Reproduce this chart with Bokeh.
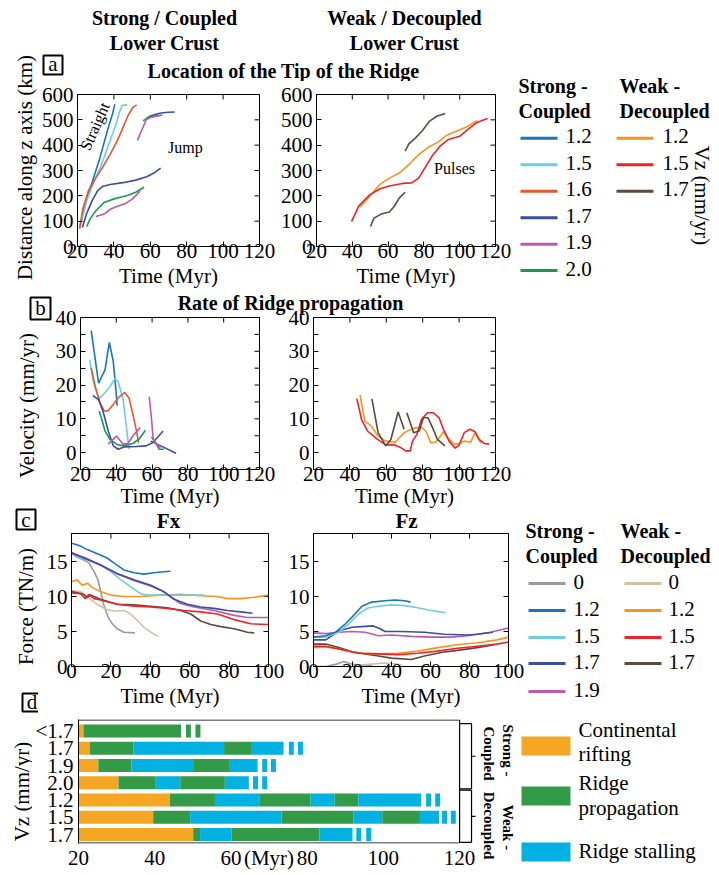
import math
from bokeh.plotting import figure
from bokeh.models import Range1d, FixedTicker
from bokeh.layouts import row, column
from bokeh.core.properties import value
from bokeh.embed import file_html
from bokeh.resources import INLINE

FONT = "Liberation Serif"

# ---------------- colours ----------------
C_S0, C_S12, C_S15, C_S16 = "#9a9a9a", "#1a76bb", "#6dcde2", "#e05a2b"
C_S17, C_S19, C_S20 = "#3b4ea1", "#bd58ae", "#1b9a4f"
C_W0, C_W12, C_W15, C_W17 = "#d1c2a4", "#f7941e", "#ee2229", "#5e4a3d"
PHASE_COLORS = ["#f5a623", "#339b48", "#00b1e1"]

# ---------------- panel a : tip location (km) ----------------
a_s12_t = [21.3, 24.6, 28.3, 31.9, 36.5, 39.3, 40.5]
a_s12_z = [75, 181, 260, 340, 459, 525, 562]
a_s15_t = [21.8, 25, 29, 33, 37, 41, 43, 44.5, 47.4]
a_s15_z = [88, 180, 255, 320, 400, 480, 530, 556, 560]
a_s16_t = [21.1, 23, 26, 30, 34, 38, 42, 45, 48, 50.5, 52.5]
a_s16_z = [71, 150, 220, 270, 315, 365, 420, 470, 520, 550, 558]
a_s17_t1 = [22.7, 25, 28, 31, 34, 38, 45, 52, 58, 62, 65.7]
a_s17_z1 = [75, 130, 180, 220, 238, 245, 252, 262, 275, 290, 309]
a_s17_t2 = [57.8, 60, 63, 66, 70, 73.4]
a_s17_z2 = [505, 515, 522, 527, 530, 531]
a_s19_t1 = [30.1, 34.6, 38.3, 41.9, 46.5, 50.2, 54.4]
a_s19_z1 = [118, 128, 148, 159, 170, 188, 218]
a_s19_t2 = [52.9, 55.6, 57.8, 60.2, 65.7]
a_s19_z2 = [419, 465, 501, 509, 518]
a_s20_t1 = [25.1, 27, 30.1, 34.6, 40.1, 47.4, 52, 56.6]
a_s20_z1 = [79, 110, 141, 174, 188, 201, 214, 234]
a_s20_t2 = [56, 59.3, 62, 66.6]
a_s20_z2 = [496, 511, 515, 518]
a_w12_t = [44.2, 49.7, 55.2, 60.7, 66.2, 71.6, 77.1, 82.6, 88.1, 92.7, 99.1, 104.6, 109.7]
a_w12_z = [156, 198, 244, 270, 290, 323, 363, 392, 413, 439, 458, 475, 497]
a_w15_t = [39.6, 43.8, 49.7, 55.2, 60.7, 68, 73.1, 77.1, 80.8, 84.5, 89, 93.6, 100, 104.6, 109.2, 115.6]
a_w15_z = [99, 162, 204, 227, 239, 249, 251, 270, 313, 356, 396, 422, 435, 462, 488, 505]
a_w17_t1 = [50.2, 52.1, 56.1, 60.7, 63.4, 66.2, 69.5]
a_w17_z1 = [79, 112, 128, 136, 158, 191, 214]
a_w17_t2 = [69.5, 71.6, 74.9, 78.9, 83.2, 87.2, 91.8]
a_w17_z2 = [376, 405, 426, 455, 495, 514, 525]

# ---------------- panel b : velocity (mm/yr) ----------------
b_s12_t = [26.0, 30.1, 33.7, 36.1, 38.3, 39.6, 40.5]
b_s12_v = [36.1, 20.6, 24.5, 32.6, 27.0, 19.6, 13.9]
b_s15_t = [25.1, 26.9, 30.1, 32.8, 36.5, 39.2, 41.0, 43.8, 45.6, 47.1]
b_s15_v = [27.5, 21.6, 16.0, 17.2, 19.6, 21.9, 21.1, 15.7, 7.8, 1.0]
b_s16_t = [26.0, 28.2, 31.0, 33.3, 35.2, 38.3, 41.0, 44.7, 47.1, 49.3, 51.1, 52.5]
b_s16_v = [25.0, 19.6, 14.7, 12.3, 12.3, 14.2, 16.2, 17.8, 16.2, 11.3, 6.9, 2.9]
b_s17_t1 = [26.9, 30.1, 32.8, 35.5, 38.3, 41.0, 44.7, 51.1, 56.6, 60.2, 62.9, 66.1]
b_s17_v1 = [16.9, 15.7, 11.8, 6.4, 2.0, 1.0, 1.7, 1.8, 2.0, 2.9, 4.4, 6.4]
b_s17_t2 = [59.3, 64.8, 73.4]
b_s17_v2 = [3.4, 2.0, -0.2]
b_s19_t1 = [35.5, 40.1, 43.8, 46.5, 49.3, 53.3]
b_s19_v1 = [2.5, 4.9, 2.5, 2.7, 4.9, 7.4]
b_s19_t2 = [58.4, 59.7, 60.6, 62.4, 64.8]
b_s19_v2 = [16.5, 9.8, 3.9, 2.5, 1.5]
b_s20_t1 = [30.4, 31.9, 33.7, 36.5, 40.1, 43.8, 49.3, 52.9, 56.2]
b_s20_v1 = [12.3, 9.8, 6.4, 3.9, 2.5, 2.0, 2.7, 4.1, 6.6]
b_s20_t2 = [59.7, 62.0, 63.9, 66.6]
b_s20_v2 = [4.7, 2.9, 1.0, 1.0]
b_w12_t = [45.6, 48.2, 51.5, 55.5, 59.7, 64.9, 69.8, 74.4, 79.0, 81.7, 84.5, 87.2, 91.4, 94.5, 97.3, 100.0, 102.8, 106.4, 108.8, 111.9]
b_w12_v = [17.0, 9.3, 8.0, 4.9, 3.4, 3.1, 5.9, 7.1, 7.6, 6.4, 2.9, 3.1, 6.1, 3.9, 2.6, 2.6, 3.4, 3.1, 5.9, 2.9]
b_w15_t = [43.8, 46.4, 49.7, 55.2, 59.7, 64.3, 67.9, 70.7, 73.1, 74.4, 76.8, 79.3, 82.6, 85.9, 89.0, 91.4, 94.5, 97.8, 100.0, 102.8, 106.0, 108.8, 111.0, 113.8, 116.5]
b_w15_v = [16.0, 9.8, 6.4, 3.9, 2.3, 2.3, 1.5, 0.5, 0.5, 3.4, 5.4, 9.8, 11.8, 11.8, 10.3, 6.9, 3.4, 1.3, 2.2, 5.9, 6.9, 6.2, 3.9, 2.7, 2.5]
b_w17_t1 = [52.1, 55.5, 59.7, 62.5, 66.5, 69.8]
b_w17_v1 = [15.9, 5.9, 2.0, 3.9, 12.0, 6.9]
b_w17_t2 = [71.3, 75.0, 78.1, 80.4, 83.0, 85.4, 88.1, 92.2]
b_w17_v2 = [11.8, 5.9, 6.4, 10.3, 10.3, 7.4, 3.9, 2.0]

# ---------------- panel c : forces (TN/m) ----------------
fx_s0_t = [0, 2.9, 6.3, 8.8, 11.4, 13.4, 14.7, 16.4, 18.5, 20.7, 23.2, 26.6, 32.2]
fx_s0_f = [16.2, 15.6, 15.2, 14.8, 13.6, 12.4, 10.9, 8.8, 7.1, 6.1, 5.4, 4.9, 4.8]
fx_s12_t = [0.3, 4.6, 8, 13.1, 18.1, 21.5, 26.6, 31.7, 36.8, 41.9, 45.3, 50.3]
fx_s12_f = [17.6, 17.2, 16.7, 16.1, 15.5, 14.8, 13.8, 13.4, 13.2, 13.4, 13.5, 13.6]
fx_s15_t = [0, 4.6, 9.7, 14.7, 19.8, 24.9, 30, 35.1, 38.5, 48.6, 58.8, 67.6]
fx_s15_f = [16.2, 15.5, 15.1, 14.5, 13.6, 12.4, 11.4, 10.4, 10.2, 10.2, 10.2, 10.2]
fx_s17_t = [0, 6.3, 14.7, 23.2, 31.7, 40.2, 46.9, 52, 58.8, 65.6, 72.4, 79.2, 85.9, 91.9]
fx_s17_f = [16.3, 15.5, 14.5, 13.3, 12.4, 11.6, 10.7, 9.6, 8.9, 8.5, 8.3, 8.0, 7.8, 7.6]
fx_s19_t = [0, 6.3, 14.7, 23.2, 31.7, 40.2, 45.3, 50.3, 55.4, 62.2, 72.4, 82.5, 89.3, 100]
fx_s19_f = [16.1, 15.6, 14.5, 13.2, 12.3, 11.5, 10.9, 10.0, 9.0, 8.5, 8.0, 7.3, 7.0, 7.0]
fx_w0_t = [0, 4.6, 8, 11.4, 14.7, 18.1, 22.4, 26.6, 30, 33.4, 36.8, 40.2, 43.9]
fx_w0_f = [10.8, 10.7, 10.0, 9.2, 8.6, 8.1, 7.9, 8.0, 7.5, 6.6, 5.6, 4.9, 4.3]
fx_w12_t = [0, 2.9, 5.4, 8.3, 10.5, 14.7, 19.8, 26.6, 35.1, 45.3, 55.4, 65.6, 74.1, 79.2, 85.9, 92.7, 100]
fx_w12_f = [12.1, 12.4, 11.6, 11.9, 11.3, 10.7, 10.2, 10.0, 10.0, 10.2, 10.3, 10.1, 10.0, 9.7, 9.7, 9.9, 10.2]
fx_w15_t = [0, 4.6, 7.1, 8.8, 11.4, 14.7, 23.2, 31.7, 40.2, 48.6, 57.1, 65.6, 74.1, 82.5, 91, 100]
fx_w15_f = [10.5, 10.4, 9.7, 10.3, 9.7, 9.5, 8.9, 8.6, 8.5, 8.3, 8.0, 7.8, 7.5, 6.7, 6.1, 6.0]
fx_w17_t = [0, 5.4, 8, 9.7, 14.7, 23.2, 31.7, 40.2, 48.6, 55.4, 60.5, 65.6, 70.7, 75.8, 82.5, 89.3, 92.7]
fx_w17_f = [10.7, 10.4, 9.9, 10.2, 9.6, 8.9, 8.8, 8.6, 8.4, 8.0, 7.5, 6.5, 6.0, 5.7, 5.4, 4.9, 4.8]

fz_s0_t = [0, 6.3, 11.3, 15.5, 18.9, 23.1, 29.9]
fz_s0_f = [0, 0, 0.3, 0.7, 0.4, 0.2, 0.2]
fz_s12_t = [0, 6.3, 11.3, 16.4, 20.6, 24.8, 29.9, 36.7, 41.7, 46.8, 49.8]
fz_s12_f = [4.2, 4.4, 4.9, 6.1, 7.3, 8.6, 9.2, 9.4, 9.5, 9.4, 9.2]
fz_s15_t = [0, 6.3, 13, 18.1, 23.1, 28.2, 33.3, 40, 46.8, 53.5, 60.3, 67.6]
fz_s15_f = [4.2, 4.2, 4.9, 6.1, 7.5, 8.4, 8.6, 8.8, 8.7, 8.4, 8.0, 7.7]
fz_s17_t = [0, 6.3, 13, 19.8, 24.8, 30.7, 34.1, 36.7, 45.1, 56.9, 67.1, 78.9, 84, 92]
fz_s17_f = [3.8, 3.8, 5.1, 5.6, 5.7, 5.8, 5.4, 5.0, 5.0, 4.9, 4.6, 4.5, 4.6, 4.9]
fz_s19_t = [0, 6.3, 13, 19.8, 26.5, 33.3, 40, 50.2, 60.3, 70.4, 78.9, 90.7, 100]
fz_s19_f = [4.8, 4.7, 4.9, 5.0, 4.9, 4.4, 4.5, 4.3, 4.2, 4.2, 4.4, 4.9, 5.5]
fz_w0_t = [19.8, 28.2, 36.7, 41.7, 45.1]
fz_w0_f = [0.1, 0.3, 0.5, 0.4, 0.2]
fz_w12_t = [0, 6.3, 13, 23.1, 33.3, 43.4, 53.5, 63.7, 73.8, 84, 94.1, 100]
fz_w12_f = [2.7, 2.8, 2.5, 1.9, 1.8, 1.9, 2.2, 2.7, 3.1, 3.4, 3.8, 4.2]
fz_w15_t = [0, 6.3, 13, 23.1, 33.3, 43.4, 53.5, 63.7, 73.8, 84, 94.1, 100]
fz_w15_f = [2.9, 2.9, 2.5, 1.9, 1.8, 1.7, 1.9, 2.2, 2.6, 2.9, 3.2, 3.5]
fz_w17_t = [0, 6.3, 13, 19.8, 26.5, 33.3, 40, 50.2, 56.9, 65.4, 73.8, 84, 92.7]
fz_w17_f = [3.2, 3.2, 2.7, 2.1, 1.8, 1.5, 1.2, 1.0, 1.5, 2.0, 2.3, 2.7, 3.1]

# ---------------- panel d : phases timeline (Myr) ----------------
d_rows = ["<1.7", "1.7", "1.9", "2.0", "1.2", "1.5", "1.7"]
d_bounds = [
    [20, 21.3, 46.9],
    [20, 23.0, 34.4, 58.2, 65.5, 73.8],
    [20, 25.2, 33.9, 50.3, 59.5, 67.0],
    [20, 30.5, 40.1, 46.7, 58.4, 64.7],
    [20, 44.0, 55.8, 67.6, 80.9, 87.2, 93.4, 109.9],
    [20, 39.6, 49.3, 73.3, 92.1, 99.7, 109.6, 114.6],
    [20, 50.1, 51.9, 60.2, 83.2, 91.9],
]
d_dash_starts = [[48.2, 50.7], [75.2, 77.6], [68.2, 70.5], [65.8, 68.2],
                 [111.2, 113.6], [115.4, 117.7], [92.9, 95.5]]
d_dash_len = 1.3

a_legend_strong = ["1.2", "1.5", "1.6", "1.7", "1.9", "2.0"]
a_legend_weak = ["1.2", "1.5", "1.7"]
c_legend_strong = ["0", "1.2", "1.5", "1.7", "1.9"]
c_legend_weak = ["0", "1.2", "1.5", "1.7"]


# ---------------- helpers ----------------
def canvas(x0, y0, x1, y1):
    p = figure(width=x1 - x0, height=y1 - y0, x_range=Range1d(x0, x1), y_range=Range1d(y1, y0),
               x_axis_type=None, y_axis_type=None, toolbar_location=None,
               output_backend="svg", min_border=0, title=None)
    p.outline_line_color = None
    p.background_fill_color = None
    p.border_fill_color = None
    return p


def put(p, x, y, s, size=21, bold=False, align="left", angle=0.0):
    p.text(x=[x], y=[y], text=[s], text_font=value(FONT), text_font_size=f"{size}px",
           text_font_style="bold" if bold else "normal", text_align=align,
           text_baseline="middle", angle=angle, text_color="black")


def box(p, x0, y0, x1, y1, letter, cy, size=21):
    p.quad(left=[x0], right=[x1], top=[y0], bottom=[y1], fill_color=None,
           line_color="black", line_width=2)
    put(p, (x0 + x1) / 2, cy, letter, size, align="center")


def style_axis(ax, ticks, minor=None, standoff=4):
    ax.ticker = FixedTicker(ticks=ticks, minor_ticks=minor or [])
    ax.major_tick_in = 5
    ax.major_tick_out = 0
    ax.minor_tick_in = 5
    ax.minor_tick_out = 0
    ax.axis_line_color = "black"
    ax.major_tick_line_color = "black"
    ax.minor_tick_line_color = "black"
    ax.major_label_text_font = FONT
    ax.major_label_text_color = "black"
    ax.major_label_text_font_size = "21px"
    ax.major_label_standoff = standoff


def panel(w, h, bl, br, bt, bb, xr, yr, xt, yt, yminor=None, xl_standoff=3):
    p = figure(width=w, height=h, x_range=Range1d(*xr), y_range=Range1d(*yr),
               toolbar_location=None, output_backend="svg", title=None,
               min_border_left=bl, min_border_right=br, min_border_top=bt, min_border_bottom=bb)
    p.grid.visible = False
    p.outline_line_color = "black"
    p.outline_line_width = 1
    p.border_fill_color = None
    p.background_fill_color = "white"
    style_axis(p.xaxis[0], xt, standoff=-3)
    style_axis(p.yaxis[0], yt, yminor)
    p.xaxis[0].axis_label = "Time (Myr)"
    p.xaxis[0].axis_label_text_font = FONT
    p.xaxis[0].axis_label_text_font_size = "21px"
    p.xaxis[0].axis_label_text_font_style = "normal"
    p.xaxis[0].axis_label_text_color = "black"
    p.xaxis[0].axis_label_standoff = xl_standoff
    # mirrored inward ticks on the top and right frame edges (outer half is clipped)
    p.scatter(x=xt, y=[yr[1]] * len(xt), marker="dash", angle=math.pi / 2, size=10,
              line_color="black", line_width=1)
    ys = list(yt) + list(yminor or [])
    p.scatter(x=[xr[1]] * len(ys), y=ys, marker="dash", size=10, line_color="black", line_width=1)
    return p


def lines(p, series):
    for t, v, c in series:
        p.line(t, v, line_color=c, line_width=1.6)


T_TICKS = [20, 40, 60, 80, 100, 120]
A_YT = [0, 100, 200, 300, 400, 500, 600]
B_YT = [0, 10, 20, 30, 40]
B_YM = [-5, 5, 15, 25, 35]
C_XT = [0, 20, 40, 60, 80, 100]
C_YT = [0, 5, 10, 15]

# ================= Block A (y 0..293) =================
stripA = canvas(0, 0, 38, 293)
put(stripA, 24, 167, "Distance along z axis (km)", 21, align="center", angle=math.pi / 2)

headerA = canvas(38, 0, 513, 81)
put(headerA, 164, 17, "Strong / Coupled", 20, bold=True, align="center")
put(headerA, 164, 42, "Lower Crust", 20, bold=True, align="center")
put(headerA, 404, 17, "Weak / Decoupled", 20, bold=True, align="center")
put(headerA, 404, 42, "Lower Crust", 20, bold=True, align="center")
box(headerA, 43, 55, 62, 74, "a", 63.5)
put(headerA, 283, 70, "Location of the Tip of the Ridge", 20, bold=True, align="center")

a_left = panel(239, 212, 39, 18, 13, 47, (20, 120), (0, 600), T_TICKS, A_YT)
lines(a_left, [(a_s12_t, a_s12_z, C_S12), (a_s15_t, a_s15_z, C_S15), (a_s16_t, a_s16_z, C_S16),
               (a_s17_t1, a_s17_z1, C_S17), (a_s17_t2, a_s17_z2, C_S17),
               (a_s20_t1, a_s20_z1, C_S20), (a_s20_t2, a_s20_z2, C_S20),
               (a_s19_t1, a_s19_z1, C_S19), (a_s19_t2, a_s19_z2, C_S19)])
a_left.text(x=[29.5], y=[474], text=["Straight"], text_font=value(FONT), text_font_size="16px",
            text_align="center", text_baseline="middle", angle=math.radians(66))
a_left.text(x=[79.3], y=[392], text=["Jump"], text_font=value(FONT), text_font_size="16px",
            text_align="center", text_baseline="middle")

a_right = panel(236, 212, 36, 18, 13, 47, (20, 120), (0, 600), T_TICKS, A_YT)
lines(a_right, [(a_w12_t, a_w12_z, C_W12), (a_w15_t, a_w15_z, C_W15),
                (a_w17_t1, a_w17_z1, C_W17), (a_w17_t2, a_w17_z2, C_W17)])
a_right.text(x=[97.1], y=[307], text=["Pulses"], text_font=value(FONT), text_font_size="16px",
             text_align="center", text_baseline="middle")

legendA = canvas(513, 0, 716, 293)
put(legendA, 518, 85, "Strong -", 20, bold=True)
put(legendA, 518, 110, "Coupled", 20, bold=True)
put(legendA, 619, 85, "Weak -", 20, bold=True)
put(legendA, 619, 110, "Decoupled", 20, bold=True)
a_leg_y = [137.7, 164.3, 190.7, 217.3, 243.7, 270]
for yy, lab, c in zip(a_leg_y, a_legend_strong, [C_S12, C_S15, C_S16, C_S17, C_S19, C_S20]):
    legendA.segment(x0=[520], y0=[yy], x1=[557], y1=[yy], line_color=c, line_width=3)
    put(legendA, 565, yy - 2, lab, 21)
for yy, lab, c in zip(a_leg_y, a_legend_weak, [C_W12, C_W15, C_W17]):
    legendA.segment(x0=[616], y0=[yy], x1=[653], y1=[yy], line_color=c, line_width=3)
    put(legendA, 662, yy - 2, lab, 21)
put(legendA, 701, 195, "Vz (mm/yr)", 21, align="center", angle=-math.pi / 2)

blockA = row(stripA, column(headerA, row(a_left, a_right)), legendA)

# ================= Block B (y 288..513, overlapping A by 5 px) =================
stripB = canvas(0, 288, 52, 513)
box(stripB, 30, 297, 50, 319, "b", 307.5)
put(stripB, 26, 405, "Velocity (mm/yr)", 21, align="center", angle=math.pi / 2)

headerB = canvas(52, 288, 513, 318)
put(headerB, 290, 302, "Rate of Ridge propagation", 20, bold=True, align="center")

b_left = panel(228, 209, 25, 21, 13, 44, (20, 120), (-5, 40), T_TICKS, B_YT, yminor=B_YM, xl_standoff=0)
lines(b_left, [(b_s12_t, b_s12_v, C_S12), (b_s15_t, b_s15_v, C_S15), (b_s16_t, b_s16_v, C_S16),
               (b_s17_t1, b_s17_v1, C_S17), (b_s17_t2, b_s17_v2, C_S17),
               (b_s20_t1, b_s20_v1, C_S20), (b_s20_t2, b_s20_v2, C_S20),
               (b_s19_t1, b_s19_v1, C_S19), (b_s19_t2, b_s19_v2, C_S19)])
b_right = panel(233, 209, 33, 18, 13, 44, (20, 120), (-5, 40), T_TICKS, B_YT, yminor=B_YM, xl_standoff=0)
lines(b_right, [(b_w12_t, b_w12_v, C_W12), (b_w15_t, b_w15_v, C_W15),
                (b_w17_t1, b_w17_v1, C_W17), (b_w17_t2, b_w17_v2, C_W17)])

blockB = row(stripB, column(headerB, row(b_left, b_right, margin=(-14, 0, 0, 0))),
             margin=(-5, 0, 0, 0))

# ================= Block C (y 507..713, overlapping B by 6 px) =================
stripC = canvas(0, 507, 38, 713)
box(stripC, 16, 509, 35, 529, "c", 519.5)
put(stripC, 25, 606, "Force (TN/m)", 21, align="center", angle=math.pi / 2)
box(stripC, 22, 693, 41, 711, "d", 701)

headerC = canvas(38, 507, 524, 531)
put(headerC, 168, 520, "Fx", 21, bold=True, align="center")
put(headerC, 406, 520, "Fz", 21, bold=True, align="center")

c_left = panel(247, 182, 33, 17, 2, 47, (0, 100), (0, 19), C_XT, C_YT)
lines(c_left, [(fx_s0_t, fx_s0_f, C_S0), (fx_w0_t, fx_w0_f, C_W0), (fx_w12_t, fx_w12_f, C_W12),
               (fx_s15_t, fx_s15_f, C_S15), (fx_w17_t, fx_w17_f, C_W17), (fx_w15_t, fx_w15_f, C_W15),
               (fx_s19_t, fx_s19_f, C_S19), (fx_s17_t, fx_s17_f, C_S17), (fx_s12_t, fx_s12_f, C_S12)])
c_right = panel(239, 182, 26, 16, 2, 47, (0, 100), (0, 19), C_XT, C_YT)
lines(c_right, [(fz_s0_t, fz_s0_f, C_S0), (fz_w0_t, fz_w0_f, C_W0), (fz_w17_t, fz_w17_f, C_W17),
                (fz_w12_t, fz_w12_f, C_W12), (fz_w15_t, fz_w15_f, C_W15),
                (fz_s19_t, fz_s19_f, C_S19), (fz_s17_t, fz_s17_f, C_S17),
                (fz_s15_t, fz_s15_f, C_S15), (fz_s12_t, fz_s12_f, C_S12)])

legendC = canvas(524, 507, 716, 713)
put(legendC, 525, 530, "Strong -", 20, bold=True)
put(legendC, 525, 555, "Coupled", 20, bold=True)
put(legendC, 620, 530, "Weak -", 20, bold=True)
put(legendC, 620, 555, "Decoupled", 20, bold=True)
c_leg_y = [583, 610, 637, 663, 691]
for yy, lab, c in zip(c_leg_y, c_legend_strong, [C_S0, C_S12, C_S15, C_S17, C_S19]):
    legendC.segment(x0=[528], y0=[yy], x1=[565], y1=[yy], line_color=c, line_width=3)
    put(legendC, 573, yy - 2, lab, 21)
for yy, lab, c in zip(c_leg_y, c_legend_weak, [C_W0, C_W12, C_W15, C_W17]):
    legendC.segment(x0=[624], y0=[yy], x1=[661], y1=[yy], line_color=c, line_width=3)
    put(legendC, 668, yy - 2, lab, 21)

blockC = row(stripC, column(headerC, row(c_left, c_right)), legendC, margin=(-6, 0, 0, 0))

# ================= Block D (y 713..872) =================
dstrip = canvas(0, 713, 32, 872)
put(dstrip, 21, 791, "Vz (mm/yr)", 21, align="center", angle=math.pi / 2)

D_YR = (0.48, 7.67)
D_XR = (20, 20 + 400 / 3.83)
d = figure(width=447, height=159, x_range=Range1d(*D_XR), y_range=Range1d(*D_YR),
           toolbar_location=None, output_backend="svg", title=None,
           min_border_left=44, min_border_right=3, min_border_top=6, min_border_bottom=29)
d.grid.visible = False
d.outline_line_color = None
d.border_fill_color = None
n = len(d_rows)
ypos = [n - i for i in range(n)]
lefts, rights, ys, cols = [], [], [], []
for i, bounds in enumerate(d_bounds):
    last = 0
    for k in range(len(bounds) - 1):
        ph = 0 if k == 0 else (1 if k % 2 == 1 else 2)
        lefts.append(bounds[k]); rights.append(bounds[k + 1]); ys.append(ypos[i]); cols.append(PHASE_COLORS[ph])
        last = ph
    for s in d_dash_starts[i]:
        lefts.append(s); rights.append(s + d_dash_len); ys.append(ypos[i]); cols.append(PHASE_COLORS[last])
d.hbar(y=ys, left=lefts, right=rights, height=0.75, fill_color=cols, line_color=None)

# frame lines and the two group brackets
ytop, ybot = D_YR[1] - 0.03, D_YR[0] + 0.03
d.segment(x0=[20, 20, 120], y0=[ytop, ybot, ybot], x1=[120, 120, 120], y1=[ytop, ybot, ytop],
          line_color="black", line_width=1.2)
groups = [(7.43, 3.65), (3.57, 0.54)]
bx1, bx2 = 120 + 12 / 3.83, 120 + 16 / 3.83
for gt, gb in groups:
    d.segment(x0=[120, bx1, bx1, bx1], y0=[gt, gt, gb, (gt + gb) / 2],
              x1=[bx1, bx1, 120, bx2], y1=[gt, gb, gb, (gt + gb) / 2],
              line_color="black", line_width=1.2)

d.xaxis.ticker = FixedTicker(ticks=[20, 40, 60, 70, 80, 100, 120])
d.xaxis.major_label_overrides = {70: "(Myr)"}
d.xaxis.axis_line_color = None
d.xaxis.major_tick_in = 0
d.xaxis.major_tick_out = 0
d.xaxis.minor_tick_line_color = None
d.xaxis.major_label_standoff = 2
d.xaxis.major_label_text_font = FONT
d.xaxis.major_label_text_font_size = "21px"
d.xaxis.major_label_text_color = "black"
d.yaxis.ticker = FixedTicker(ticks=ypos)
d.yaxis.major_label_overrides = {ypos[i]: d_rows[i] for i in range(n)}
d.yaxis.axis_line_color = "black"
d.yaxis.major_tick_in = 0
d.yaxis.major_tick_out = 0
d.yaxis.minor_tick_line_color = None
d.yaxis.major_label_standoff = 5
d.yaxis.major_label_text_font = FONT
d.yaxis.major_label_text_font_size = "21px"
d.yaxis.major_label_text_color = "black"

dside = canvas(479, 713, 518, 872)
put(dside, 507, 750, "Strong -", 15, bold=True, align="center", angle=-math.pi / 2)
put(dside, 488, 753, "Coupled", 15, bold=True, align="center", angle=-math.pi / 2)
put(dside, 507, 827, "Weak -", 15, bold=True, align="center", angle=-math.pi / 2)
put(dside, 488, 825, "Decoupled", 15, bold=True, align="center", angle=-math.pi / 2)

legendD = canvas(518, 713, 716, 872)
sw_tops = [736, 786, 842]
legendD.quad(left=[521] * 3, right=[570] * 3, top=sw_tops, bottom=[t + 19 for t in sw_tops],
             fill_color=PHASE_COLORS, line_color=None)
put(legendD, 578, 729, "Continental", 21)
put(legendD, 578, 753, "rifting", 21)
put(legendD, 578, 782, "Ridge", 21)
put(legendD, 578, 807, "propagation", 21)
put(legendD, 578, 850, "Ridge stalling", 21)

blockD = row(dstrip, column(d), dside, legendD)

page = column(blockA, blockB, blockC, blockD)
open("out.html", "w").write(file_html(page, INLINE))
